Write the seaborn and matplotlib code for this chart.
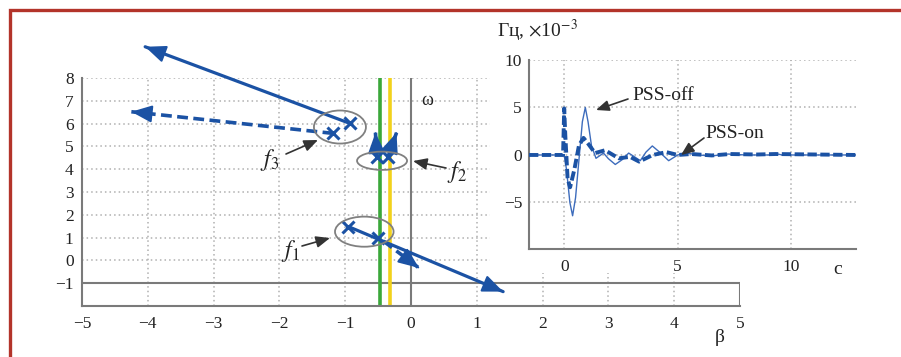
import numpy as np
import pandas as pd
import seaborn as sns
import matplotlib.pyplot as plt
from matplotlib.patches import Ellipse, Rectangle

# root locus (main plot), beta on x, omega on y
solid_from_x = [-0.93, -0.95]
solid_from_y = [6.01, 1.48]
solid_to_x = [-4.04, 1.40]
solid_to_y = [9.37, -1.37]
dashed_from_x = [-1.18, -0.52, -0.35, -0.42]
dashed_from_y = [5.57, 4.54, 4.54, 0.85]
dashed_to_x = [-4.25, -0.54, -0.22, 0.12]
dashed_to_y = [6.52, 5.60, 5.60, -0.33]
pole_x = [-0.93, -1.18, -0.52, -0.35, -0.95, -0.50]
pole_y = [6.01, 5.57, 4.54, 4.54, 1.48, 0.97]
green_x = -0.47
yellow_x = -0.32

# circles round the pole groups f1, f2, f3
ring_names = ['$f_3$', '$f_2$', '$f_1$']
ring_x = [-1.08, -0.44, -0.71]
ring_y = [5.85, 4.37, 1.26]
ring_w = [0.79, 0.76, 0.89]
ring_h = [1.45, 0.80, 1.32]
# label position and arrow tip (figure pixels from top-left)
ring_label_px = [(270, 160), (457, 172), (290, 251)]
ring_tail_px = [(286, 154), (446, 168), (302, 246)]
ring_tip_px = [(318, 140), (413, 161), (330, 238)]

main_xticks = [-5, -4, -3, -2, -1, 0, 1, 2, 3, 4, 5]
main_yticks = [-1, 0, 1, 2, 3, 4, 5, 6, 7, 8]

# inset: frequency deviation, Hz x 1e-3
t_off = [-1.55, 0.0, 0.1, 0.25, 0.37, 0.5, 0.65, 0.8, 0.93, 1.05, 1.2, 1.4, 1.55,
         1.73, 1.95, 2.25, 2.55, 2.84, 3.1, 3.35, 3.6, 3.88, 4.2, 4.6, 5.0, 5.4,
         5.9, 6.5, 7.2, 8.0, 9.0, 9.3, 9.6, 12.85]
f_off = [0, 0, -1.5, -5.0, -6.4, -4.5, -0.5, 3.5, 5.0, 3.5, 1.0, -0.35, -0.1,
         0.2, -0.4, -1.0, -0.5, 0.2, -0.2, -0.6, 0.3, 0.95, 0.3, -0.6, 0.0, 0.2,
         0.0, -0.1, 0.1, 0.0, 0.0, 0.15, 0.0, 0]
t_on = [-1.55, -0.05, 0.0, 0.05, 0.15, 0.26, 0.45, 0.65, 0.85, 1.05, 1.36, 1.8,
        2.4, 2.9, 3.3, 3.9, 4.5, 5.0, 5.6, 6.5, 7.3, 8.5, 9.3, 12.85]
f_on = [0, 0, 4.9, 2.0, -2.5, -3.4, -1.5, 1.0, 1.8, 1.2, 0.2, 0.5,
        -0.35, -0.2, -0.7, 0.0, 0.3, 0.0, 0.1, -0.05, 0.1, 0.05, 0.1, 0]

W, H = 901, 357
blue = '#1b52a4'
gray = '#7a7a7a'

sns.set_style('white')
plt.rcParams['font.family'] = ['Liberation Serif', 'DejaVu Serif']
plt.rcParams['mathtext.fontset'] = 'stix'

fig = plt.figure(figsize=(W / 100, H / 100), dpi=100)


def fx(px):
    return px / W


def fy(py):
    return 1 - py / H


# ---- main plot
ax = fig.add_axes([fx(82), fy(306), fx(740) - fx(82), fy(78) - fy(306)])
ax.set_zorder(0)
ax.set_xlim(-5, 5)
ax.set_ylim(-2, 8)
ax.set_xticks(main_xticks)
ax.set_yticks(main_yticks)
ax.set_xticklabels([str(v).replace('-', '\u2212') for v in main_xticks])
ax.set_yticklabels([str(v).replace('-', '\u2212') for v in main_yticks])
for y in main_yticks[1:]:
    ax.axhline(y, color='#b0b0b0', lw=1.1, ls=(0, (1, 2)), zorder=0)
for x in main_xticks[1:-1]:
    if x != 0:
        ax.axvline(x, color='#b0b0b0', lw=1.1, ls=(0, (1, 2)), zorder=0)
ax.axhline(-1, color=gray, lw=1.5, zorder=1)
ax.axvline(0, color=gray, lw=1.5, zorder=1)
ax.plot([5, 5], [-2, -1], color=gray, lw=1.5)
ax.axvline(green_x, color='#3aa83a', lw=2.6, zorder=2)
ax.axvline(yellow_x, color='#f2d21b', lw=2.6, zorder=2)
sns.despine(ax=ax, top=True, right=True)
for s in ['left', 'bottom']:
    ax.spines[s].set_color(gray)
    ax.spines[s].set_linewidth(1.5)
ax.tick_params(direction='in', length=4, width=1.2, color=gray,
               labelsize=12.5, labelcolor='#222222')
ax.tick_params(axis='x', pad=7)
ax.tick_params(axis='y', pad=6)

head = '-|>,head_length=0.6,head_width=0.25'


def arrow_head(x0, y0, x1, y1):
    # solid filled head at the end of a locus branch
    bx = x1 - 0.02 * (x1 - x0)
    by = y1 - 0.02 * (y1 - y0)
    ax.annotate('', xy=(x1, y1), xytext=(bx, by), annotation_clip=False,
                arrowprops=dict(arrowstyle=head, mutation_scale=21, color=blue,
                                lw=1.5, shrinkA=0, shrinkB=0), zorder=4)


for x0, y0, x1, y1 in zip(solid_from_x, solid_from_y, solid_to_x, solid_to_y):
    ax.plot([x0, x1], [y0, y1], color=blue, lw=2.3, clip_on=False, zorder=4)
    arrow_head(x0, y0, x1, y1)
for x0, y0, x1, y1 in zip(dashed_from_x, dashed_from_y, dashed_to_x, dashed_to_y):
    ax.plot([x0, x1], [y0, y1], color=blue, lw=2.6, ls=(0, (3, 1.5)),
            clip_on=False, zorder=4)
    arrow_head(x0, y0, x1, y1)
ax.plot(pole_x, pole_y, 'x', color=blue, ms=8, mew=2.2, zorder=5)

for cx, cy, w, h in zip(ring_x, ring_y, ring_w, ring_h):
    ax.add_patch(Ellipse((cx, cy), w, h, fill=False, ec='#808080', lw=1.3, zorder=6))
for name, lab, tail, tip in zip(ring_names, ring_label_px, ring_tail_px, ring_tip_px):
    fig.text(fx(lab[0]), fy(lab[1]), name, fontsize=17, ha='center', va='center',
             color='#222222')
    fig.add_artist(plt.Annotation('', xy=(fx(tip[0]), fy(tip[1])),
                                  xytext=(fx(tail[0]), fy(tail[1])),
                                  xycoords='figure fraction',
                                  arrowprops=dict(arrowstyle='-|>,head_length=0.6,head_width=0.25',
                                                  mutation_scale=14, color='#333333',
                                                  lw=1.2, shrinkA=0, shrinkB=0)))

ax.text(0.15, 7.0, '\u03c9', fontsize=13, ha='left', va='center', color='#222222')
fig.text(fx(720), fy(337), '\u03b2', fontsize=14, ha='center', va='center',
         color='#222222')

# white card under the inset
fig.add_artist(Rectangle((fx(490), fy(273)), fx(900) - fx(490), fy(14) - fy(273),
                         transform=fig.transFigure, fc='white', ec='none', zorder=1))

# ---- inset: frequency response
ins = fig.add_axes([fx(529), fy(249), fx(856) - fx(529), fy(60) - fy(249)])
ins.set_zorder(2)
ins.set_facecolor('white')
off_df = pd.DataFrame({'t': t_off, 'f': f_off})
on_df = pd.DataFrame({'t': t_on, 'f': f_on})
sns.lineplot(data=off_df, x='t', y='f', ax=ins, color='#3d6cbc', lw=1.0, zorder=3)
sns.lineplot(data=on_df, x='t', y='f', ax=ins, color=blue, lw=2.8, zorder=4)
ins.lines[-1].set_dashes([2.4, 0.9])
ins.set_xlim(-1.55, 12.85)
ins.set_ylim(-9.9, 10)
ins.set_xticks([0, 5, 10])
ins.set_yticks([-5, 0, 5, 10])
ins.set_yticklabels(['\u22125', '0', '5', '10'])
ins.set_xlabel('')
ins.set_ylabel('')
for x in [0, 5, 10]:
    ins.axvline(x, color='#b0b0b0', lw=1.1, ls=(0, (1, 2)), zorder=0)
for y in [-5, 0, 5, 10]:
    ins.axhline(y, color='#b0b0b0', lw=1.1, ls=(0, (1, 2)), zorder=0)
sns.despine(ax=ins, top=True, right=True)
for s in ['left', 'bottom']:
    ins.spines[s].set_color(gray)
    ins.spines[s].set_linewidth(1.5)
ins.tick_params(direction='in', length=4, width=1.2, color=gray,
                labelsize=12.5, labelcolor='#222222')
ins.tick_params(axis='x', pad=7)
ins.tick_params(axis='y', pad=5)

fig.text(fx(497), fy(31), '\u0413\u0446, $\\times$10$^{-3}$', fontsize=14,
         ha='left', va='center', color='#222222', zorder=5)
fig.text(fx(838), fy(270), 'c', fontsize=14, ha='center', va='center',
         color='#222222', zorder=5)
fig.text(fx(632), fy(96), 'PSS-off', fontsize=14, ha='left', va='center',
         color='#222222', zorder=5)
fig.text(fx(705), fy(134), 'PSS-on', fontsize=14, ha='left', va='center',
         color='#222222', zorder=5)
for tail, tip in [((628, 99), (596, 110)), ((704, 138), (681, 155))]:
    a = plt.Annotation('', xy=(fx(tip[0]), fy(tip[1])), xytext=(fx(tail[0]), fy(tail[1])),
                       xycoords='figure fraction',
                       arrowprops=dict(arrowstyle='-|>,head_length=0.6,head_width=0.25',
                                       mutation_scale=13, color='#333333', lw=1.2,
                                       shrinkA=0, shrinkB=0))
    a.set_zorder(5)
    fig.add_artist(a)

# red frame round the figure
fig.add_artist(Rectangle((fx(10), -0.1), 1.2, fy(10) + 0.1, transform=fig.transFigure,
                         fill=False, ec='#b3342a', lw=2.4, zorder=10))

fig.savefig('out.png', dpi=100)
